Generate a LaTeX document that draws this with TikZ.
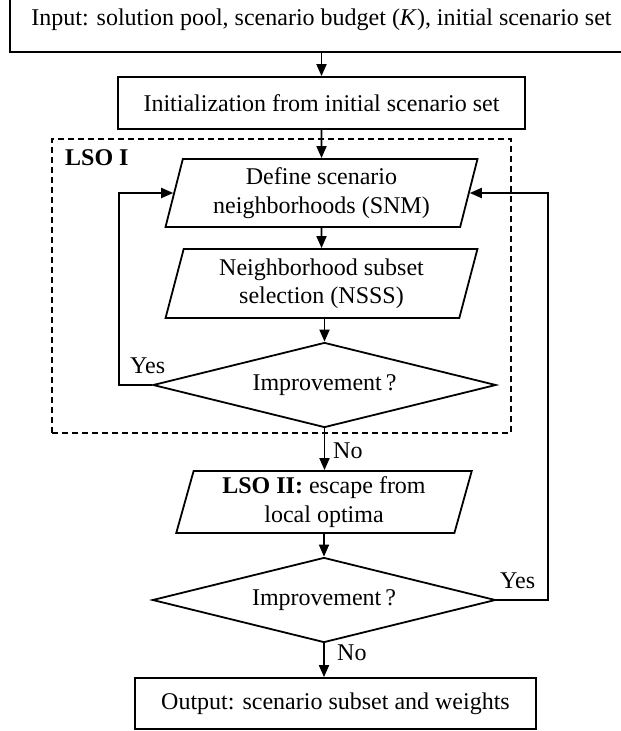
\documentclass[tikz,border=0pt]{standalone}
\usepackage{fontspec}
\setmainfont{Liberation Serif}
\usetikzlibrary{shapes.geometric,arrows.meta}
\begin{document}
\begin{tikzpicture}[x=1pt,y=-1pt,
  every node/.style={font=\fontsize{24}{28.5}\selectfont, align=center, inner sep=0pt},
  box/.style={draw, line width=1.8pt, rectangle},
  para/.style={draw, line width=1.8pt, trapezium, trapezium left angle=75, trapezium right angle=105, trapezium stretches=true},
  decision/.style={draw, line width=1.8pt, diamond, aspect=4.035, minimum width=343pt, minimum height=85pt},
  conn/.style={line width=1.8pt, -{Triangle[length=12pt,width=10pt]}},
  lbl/.style={anchor=base west},
  group/.style={draw, line width=1.6pt, dash pattern=on 6pt off 4pt}
]
\clip (0,0) rectangle (621,731);
\node[box, minimum width=623pt, minimum height=64pt] (input) at (321.5,20) {Input: solution pool, scenario budget (\textit{K}), initial scenario set};
\node[box, minimum width=407pt, minimum height=52pt] (init) at (321.5,103) {Initialization from initial scenario set};
\node[group, minimum width=459pt, minimum height=294pt] (lsoibox) at (281.5,286) {};
\node[lbl, font=\fontsize{24}{28.5}\selectfont\bfseries] (lsoi) at (65,165) {LSO I};
\node[para, minimum width=313pt, minimum height=68pt] (snm) at (321.5,193) {Define scenario\\neighborhoods (SNM)};
\node[para, minimum width=313pt, minimum height=69pt] (nsss) at (321.5,283.5) {Neighborhood subset\\selection (NSSS)};
\node[decision] (imp1) at (324.5,385) {Improvement\,?};
\node[para, minimum width=296pt, minimum height=62pt] (lsoii) at (324,502) {{\bfseries LSO II:} escape from\\local optima};
\node[decision] (imp2) at (324,600) {Improvement\,?};
\node[box, minimum width=401pt, minimum height=51pt] (out) at (335.5,703.5) {Output: scenario subset and weights};
\coordinate (fbL) at (119,193);
\coordinate (fbR) at (548,193);
\draw[conn] (input.south) -- (init.north);
\draw[conn] (init.south) -- (snm.north);
\draw[conn] (snm.south) -- (nsss.north);
\draw[conn] (nsss.south -| imp1.north) -- (imp1.north);
\draw[conn] (imp1.south) -- (imp1.south |- lsoii.north);
\draw[conn] (lsoii.south -| imp2.north) -- (imp2.north);
\draw[conn] (imp2.south) -- (imp2.south |- out.north);
\draw[conn] (imp1.west) -- (imp1.west -| fbL) |- (snm.west);
\draw[conn] (imp2.east) -- (imp2.east -| fbR) |- (snm.east);
\node[lbl] (yes1) at (130,373) {Yes};
\node[lbl] (no1) at (333,458) {No};
\node[lbl] (yes2) at (500,588) {Yes};
\node[lbl] (no2) at (337,660) {No};
\end{tikzpicture}
\end{document}
